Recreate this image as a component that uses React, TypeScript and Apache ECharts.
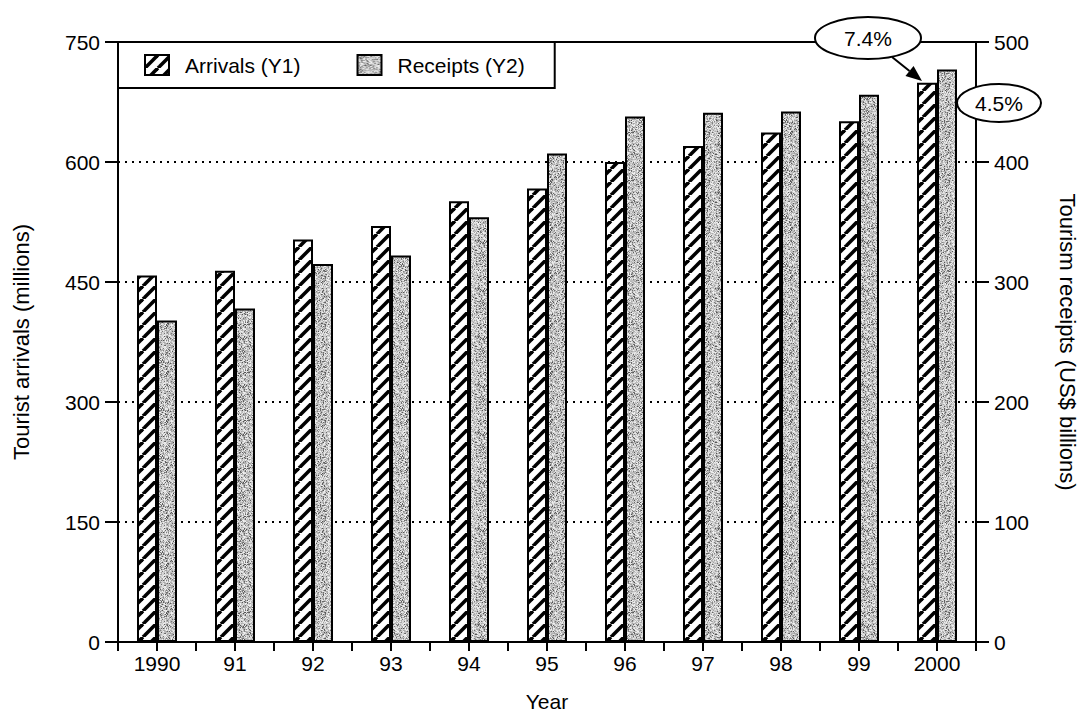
import React, { useEffect, useRef } from "react";
import * as echarts from "echarts";

const years = ["1990", "91", "92", "93", "94", "95", "96", "97", "98", "99", "2000"];
const arrivals = [458, 464, 503, 520, 551, 567, 600, 620, 637, 651, 699];
const receipts = [268, 278, 315, 322, 354, 407, 438, 441, 442, 456, 477];
const leftAxis = { min: 0, max: 750, interval: 150 };
const rightAxis = { min: 0, max: 500, interval: 100 };
const halfTicks = Array(22).fill("");

const FONT = "'Liberation Sans', Arial, Helvetica, sans-serif";

function hatchPattern() {
  const s = 13;
  const c = document.createElement("canvas");
  c.width = s;
  c.height = s;
  const g = c.getContext("2d")!;
  g.fillStyle = "#fff";
  g.fillRect(0, 0, s, s);
  g.strokeStyle = "#000";
  g.lineWidth = 3.6;
  for (const o of [-s, 0, s]) {
    g.beginPath();
    g.moveTo(o, s);
    g.lineTo(o + s, 0);
    g.stroke();
  }
  return { image: c.toDataURL(), repeat: "repeat", imageWidth: s, imageHeight: s };
}

function noisePattern() {
  const s = 48;
  const c = document.createElement("canvas");
  c.width = s;
  c.height = s;
  const g = c.getContext("2d")!;
  const img = g.createImageData(s, s);
  let seed = 987654;
  const rnd = () => {
    seed = (seed * 1103515245 + 12345) & 0x7fffffff;
    return seed / 0x7fffffff;
  };
  for (let i = 0; i < s * s; i++) {
    const r = rnd();
    let v = 160 + Math.floor(rnd() * 75);
    if (r < 0.16) v = 80 + Math.floor(rnd() * 60);
    else if (r > 0.9) v = 240;
    img.data[i * 4] = v;
    img.data[i * 4 + 1] = v;
    img.data[i * 4 + 2] = v;
    img.data[i * 4 + 3] = 255;
  }
  g.putImageData(img, 0, 0);
  return { image: c.toDataURL(), repeat: "repeat", imageWidth: s, imageHeight: s };
}

function arrowHead(x1: number, y1: number, x2: number, y2: number, len: number, w: number) {
  const dx = x2 - x1;
  const dy = y2 - y1;
  const L = Math.sqrt(dx * dx + dy * dy);
  const ux = dx / L;
  const uy = dy / L;
  const bx = x2 - ux * len;
  const by = y2 - uy * len;
  return {
    base: [bx, by],
    points: [
      [x2, y2],
      [bx - uy * w / 2, by + ux * w / 2],
      [bx + uy * w / 2, by - ux * w / 2],
    ],
  };
}

export default function App() {
  const ref = useRef<HTMLDivElement>(null);
  useEffect(() => {
    if (!ref.current) return;
    const chart = echarts.init(ref.current, undefined, { renderer: "svg" });
    const hatch = hatchPattern();
    const noise = noisePattern();
    const ah = arrowHead(892, 57, 922, 81, 16, 13);
    const txt = { fontFamily: FONT, fontSize: 21, color: "#000" };

    chart.setOption({
      animation: false,
      backgroundColor: "#fff",
      textStyle: { fontFamily: FONT, color: "#000" },
      grid: {
        left: 118,
        right: 106,
        top: 42,
        bottom: 69,
        show: true,
        borderColor: "#000",
        borderWidth: 2,
        backgroundColor: "transparent",
      },
      legend: {
        left: 118,
        top: 42,
        orient: "horizontal",
        padding: [12, 30, 12, 26],
        itemGap: 56,
        itemWidth: 24,
        itemHeight: 20,
        borderColor: "#000",
        borderWidth: 2,
        backgroundColor: "#fff",
        icon: "rect",
        textStyle: { ...txt, padding: [0, 0, 0, 11] },
        data: ["Arrivals (Y1)", "Receipts (Y2)"],
      },
      xAxis: [
        {
          type: "category",
          data: years,
          name: "Year",
          nameLocation: "middle",
          nameGap: 49,
          nameTextStyle: txt,
          axisLine: { lineStyle: { color: "#000", width: 2 } },
          axisTick: { show: false },
          axisLabel: { ...txt, margin: 11 },
        },
        {
          type: "category",
          data: halfTicks,
          position: "bottom",
          axisLine: { show: false },
          axisLabel: { show: false },
          axisTick: { show: true, interval: 0, length: 9, lineStyle: { color: "#000", width: 2 } },
          splitLine: { show: false },
        },
      ],
      yAxis: [
        {
          type: "value",
          ...leftAxis,
          name: "Tourist arrivals (millions)",
          nameLocation: "middle",
          nameGap: 86,
          nameTextStyle: { ...txt, fontSize: 22 },
          axisLine: { show: true, lineStyle: { color: "#000", width: 2 } },
          axisTick: { show: true, length: 13, lineStyle: { color: "#000", width: 2 } },
          axisLabel: { ...txt, margin: 18 },
          splitLine: { show: true, lineStyle: { color: "#000", width: 2, type: [2, 5] } },
        },
        {
          type: "value",
          ...rightAxis,
          position: "right",
          name: "Tourism receipts (US$ billions)",
          nameLocation: "middle",
          nameRotate: -90,
          nameGap: 80,
          nameTextStyle: { ...txt, fontSize: 22 },
          axisLine: { show: true, lineStyle: { color: "#000", width: 2 } },
          axisTick: { show: true, length: 13, lineStyle: { color: "#000", width: 2 } },
          axisLabel: { ...txt, margin: 18 },
          splitLine: { show: false },
        },
      ],
      series: [
        {
          name: "Arrivals (Y1)",
          type: "bar",
          xAxisIndex: 0,
          yAxisIndex: 0,
          data: arrivals,
          barWidth: 20,
          barGap: "0%",
          itemStyle: { color: hatch, borderColor: "#000", borderWidth: 2 },
        },
        {
          name: "Receipts (Y2)",
          type: "bar",
          xAxisIndex: 0,
          yAxisIndex: 1,
          data: receipts,
          barWidth: 20,
          barGap: "0%",
          itemStyle: { color: noise, borderColor: "#000", borderWidth: 2 },
        },
      ],
      graphic: [
        {
          type: "line",
          z: 100,
          shape: { x1: 892, y1: 57, x2: ah.base[0], y2: ah.base[1] },
          style: { stroke: "#000", lineWidth: 2 },
        },
        {
          type: "polygon",
          z: 100,
          shape: { points: ah.points },
          style: { fill: "#000" },
        },
        {
          type: "ellipse",
          z: 100,
          shape: { cx: 868, cy: 38, rx: 53, ry: 21 },
          style: { fill: "#fff", stroke: "#000", lineWidth: 2 },
        },
        {
          type: "text",
          z: 101,
          style: {
            text: "7.4%",
            x: 868,
            y: 38,
            align: "center",
            verticalAlign: "middle",
            textAlign: "center",
            textVerticalAlign: "middle",
            fontSize: 21,
            fontFamily: FONT,
            fill: "#000",
          },
        },
        {
          type: "ellipse",
          z: 100,
          shape: { cx: 999, cy: 103, rx: 42, ry: 19 },
          style: { fill: "#fff", stroke: "#000", lineWidth: 2 },
        },
        {
          type: "text",
          z: 101,
          style: {
            text: "4.5%",
            x: 999,
            y: 103,
            align: "center",
            verticalAlign: "middle",
            textAlign: "center",
            textVerticalAlign: "middle",
            fontSize: 21,
            fontFamily: FONT,
            fill: "#000",
          },
        },
      ],
    });
    return () => chart.dispose();
  }, []);
  return (
    <div
      ref={ref}
      style={{ position: "fixed", left: 0, top: 0, width: 1086, height: 717, background: "#fff" }}
    />
  );
}
